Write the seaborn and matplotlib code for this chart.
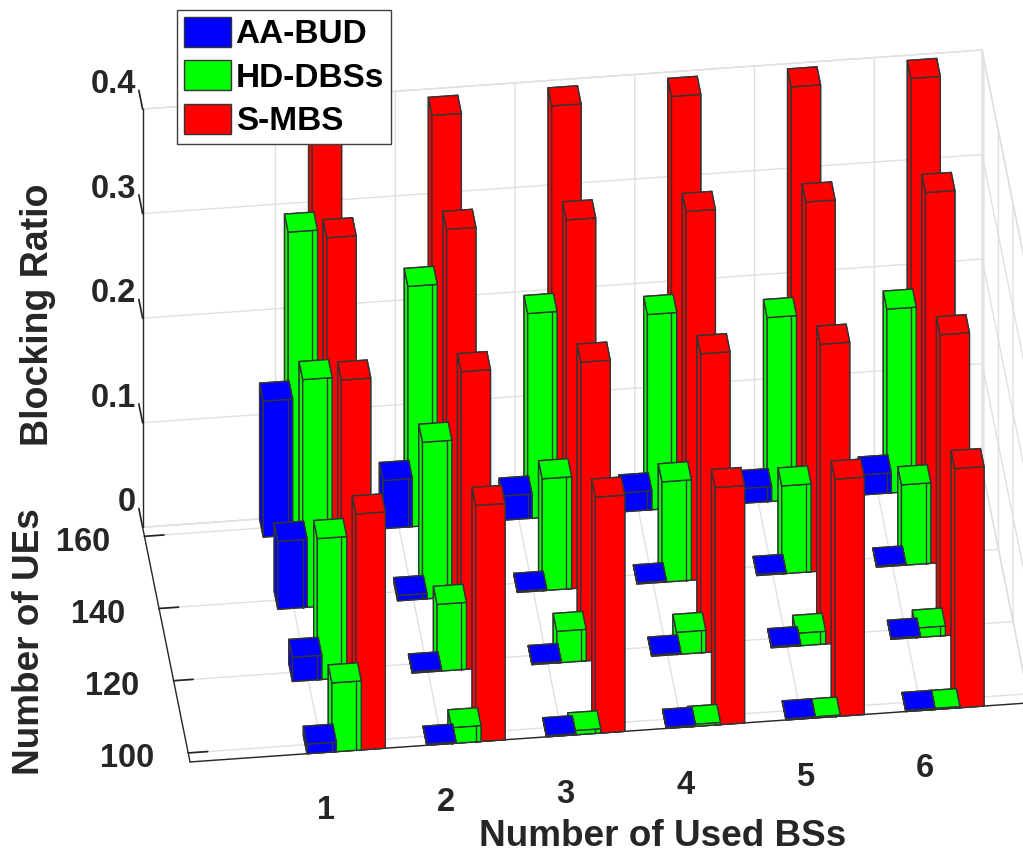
# blocking_ratio_bars.py
'''Blocking ratio per number of used BSs and UEs, as grouped 3D bars'''

import matplotlib
matplotlib.use('Agg')
import matplotlib.pyplot as plt
from matplotlib.patches import Patch
from mpl_toolkits.mplot3d import proj3d
import seaborn as sns

# categories
used_bss = [1, 2, 3, 4, 5, 6]
num_ues = [100, 120, 140, 160]
series_names = ['AA-BUD', 'HD-DBSs', 'S-MBS']
z_ticks = [0, 0.1, 0.2, 0.3, 0.4]
z_labels = ['0', '0.1', '0.2', '0.3', '0.4']

# blocking ratio, one row per number of UEs (100, 120, 140, 160)
aa_bud = [[0.009, 0.001, 0.001, 0.001, 0.001, 0.001],
          [0.023, 0.001, 0.001, 0.001, 0.001, 0.001],
          [0.065, 0.005, 0.001, 0.001, 0.001, 0.001],
          [0.130, 0.046, 0.023, 0.018, 0.014, 0.019]]
hd_dbss = [[0.066, 0.015, 0.004, 0.002, 0.001, 0.001],
           [0.135, 0.064, 0.030, 0.021, 0.012, 0.009],
           [0.218, 0.150, 0.107, 0.096, 0.084, 0.077],
           [0.290, 0.230, 0.196, 0.187, 0.176, 0.176]]
s_mbs = [[0.226, 0.226, 0.226, 0.227, 0.227, 0.229],
         [0.285, 0.285, 0.286, 0.286, 0.287, 0.288],
         [0.352, 0.352, 0.353, 0.353, 0.354, 0.355],
         [0.389, 0.392, 0.393, 0.394, 0.395, 0.395]]

sns.set_theme(style='white')
plt.rcParams['font.family'] = ['Liberation Sans', 'DejaVu Sans']
plt.rcParams['font.weight'] = 'bold'
colors = sns.color_palette(['#0000ff', '#00ff00', '#ff0000'])
text_color = '#262626'
edge_color = '#333333'
grid_color = '#e0e0e0'

figure = plt.figure(figsize=(10.23, 8.57), dpi=100)
# square axes placed so the box lands where it should in the 1023x857 frame
axes = figure.add_axes([53 / 1023, -82 / 857, 1038 / 1023, 1038 / 857],
                       projection='3d', proj_type='ortho',
                       computed_zorder=False)
axes.view_init(elev=36.2, azim=-96.8)

x_min, x_max = -0.11, 6.9
y_min, y_max = 97.5, 162.5
bar_width = 0.245
bar_depth = 5
# bars of one group overlap a little and sit right of the tick
offsets = [-0.133, 0.075, 0.276]
series = [aa_bud, hd_dbss, s_mbs]

# draw back to front so that near bars cover far ones
for row in reversed(range(len(num_ues))):
    for col in reversed(range(len(used_bss))):
        for index in reversed(range(3)):
            value = series[index][row][col]
            left = used_bss[col] + offsets[index]
            front = num_ues[row] - bar_depth / 2
            axes.bar3d(left, front, 0, bar_width, bar_depth, value,
                       color=colors[index], edgecolor=edge_color,
                       linewidth=1.0, shade=False)
            # edge of the neighbour bar shows through the overlap
            if index < 2:
                next_left = used_bss[col] + offsets[index + 1]
                next_value = series[index + 1][row][col]
                axes.plot([next_left, next_left], [front, front],
                          [0, min(value, next_value)],
                          color=edge_color, linewidth=1.0, zorder=1)

axes.set_xlim(x_min, x_max, view_margin=0)
axes.set_ylim(y_min, y_max, view_margin=0)
axes.set_zlim(0, 0.4, view_margin=0)
axes.set_box_aspect((845, 400, 518), zoom=1)

axes.set_xticks(used_bss)
axes.set_yticks(num_ues)
axes.set_zticks(z_ticks)
axes.set_yticklabels([])
axes.set_zticklabels([])
axes.tick_params(labelsize=23.5, colors=text_color)
axes.tick_params(axis='x', pad=17.5)

for axis in (axes.xaxis, axes.yaxis, axes.zaxis):
    axis.set_pane_color((1, 1, 1, 1))
    axis.pane.set_edgecolor(grid_color)
    axis.line.set_color(text_color)
    axis.line.set_linewidth(1)
    axis._axinfo['grid']['color'] = grid_color
    axis._axinfo['grid']['linewidth'] = 1
    axis._axinfo['tick']['inward_factor'] = 0
    axis._axinfo['tick']['outward_factor'] = 1
axes.yaxis._axinfo['tick']['outward_factor'] = 0.29
axes.zaxis.set_ticks_position('upper')
axes.zaxis._get_tickdir = lambda position: 1  # z ticks run along the y axis


def label_at(x, y, z, label):
    '''Puts a tick label next to a point of the 3D box, as plain 2D text.'''
    x2, y2, _ = proj3d.proj_transform(x, y, z, axes.get_proj())
    axes.text2D(x2, y2, label, transform=axes.transData, fontsize=23.5,
                color=text_color, ha='right', va='center')


# tick labels of the two left axes, the built-in offset moves them too far down
for tick in num_ues:
    label_at(x_min - 0.29, tick - 1, 0, str(tick))
for tick, label in zip(z_ticks, z_labels):
    label_at(x_min - 0.015, y_max + 6.8, tick, label)

figure.text(663 / 1023, 1 - 836 / 857, 'Number of Used BSs', fontsize=26.6,
            color=text_color, ha='center', va='center')
figure.text(30 / 1023, 1 - 642 / 857, 'Number of UEs', fontsize=26.6,
            color=text_color, ha='center', va='center', rotation=90)
figure.text(38 / 1023, 1 - 315 / 857, 'Blocking Ratio', fontsize=27,
            color=text_color, ha='center', va='center', rotation=90)

handles = [Patch(facecolor=colors[i], edgecolor=edge_color, linewidth=1)
           for i in range(3)]
figure.legend(handles, series_names, loc='upper left',
              bbox_to_anchor=(177 / 1023, 1 - 10 / 857), borderaxespad=0,
              fontsize=24, fancybox=False, framealpha=1,
              edgecolor='#404040', labelcolor='black',
              handlelength=1.41, handleheight=1.02, labelspacing=0.3,
              borderpad=0.2, handletextpad=0.15)

figure.savefig('out.png', dpi=100)
